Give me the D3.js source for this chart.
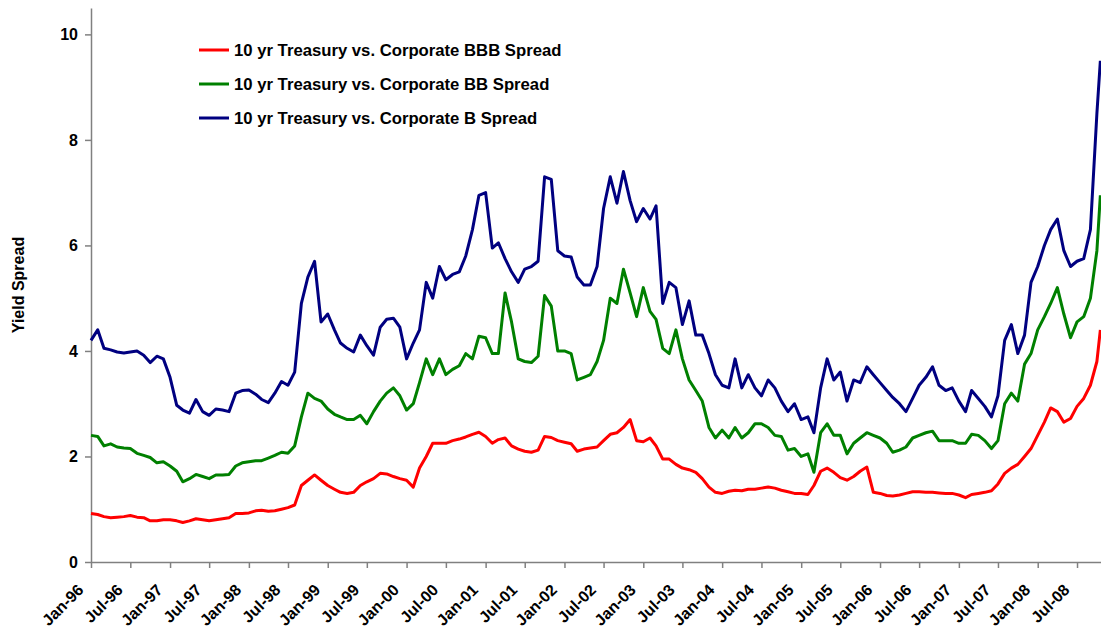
<!DOCTYPE html>
<html lang="en">
<head>
<meta charset="UTF-8">
<title>Yield Spreads</title>
<script src="https://cdnjs.cloudflare.com/ajax/libs/d3/7.8.5/d3.min.js"></script>
<style>
    body { margin: 0; background: #fff; }
    svg { display: block; font-family: "Liberation Sans", Arial, sans-serif; }
    .axis text { font-size: 16px; font-weight: bold; fill: #000; }
    .axis path, .axis line { stroke: #808080; stroke-width: 1.5; }
    .legend text { font-size: 16.7px; font-weight: bold; }
</style>
</head>
<body>
<svg id="chart" width="1101" height="631"></svg>
<script>
// monthly readings, Jan-96 .. Oct-08, plus the last plotted day
const months = d3.timeMonth.range(new Date(1996, 0, 1), new Date(2008, 9, 2));
const lastDay = new Date(2008, 9, 17);
const dates = months.concat([lastDay]);

const bbbSpread = [
    0.92, 0.90, 0.86, 0.84, 0.85, 0.86, 0.88, 0.85, 0.84, 0.78, 0.78, 0.80,
    0.80, 0.78, 0.75, 0.78, 0.82, 0.80, 0.78, 0.80, 0.82, 0.84, 0.92, 0.92,
    0.93, 0.97, 0.98, 0.96, 0.97, 1.00, 1.03, 1.08, 1.45, 1.55, 1.65, 1.55,
    1.45, 1.38, 1.32, 1.30, 1.32, 1.45, 1.52, 1.58, 1.68, 1.67, 1.62, 1.58,
    1.55, 1.42, 1.78, 2.00, 2.25, 2.25, 2.25, 2.30, 2.33, 2.37, 2.42, 2.46,
    2.38, 2.25, 2.32, 2.35, 2.20, 2.14, 2.10, 2.08, 2.12, 2.38, 2.36, 2.30,
    2.27, 2.24, 2.10, 2.14, 2.16, 2.18, 2.30, 2.42, 2.45, 2.55, 2.70, 2.30,
    2.28, 2.35, 2.20, 1.95, 1.95, 1.85, 1.78, 1.75, 1.70, 1.58, 1.42, 1.32,
    1.30, 1.34, 1.36, 1.35, 1.38, 1.38, 1.40, 1.42, 1.40, 1.36, 1.33, 1.30,
    1.30, 1.28, 1.45, 1.72, 1.78, 1.70, 1.60, 1.55, 1.62, 1.72, 1.80, 1.32,
    1.30, 1.26, 1.25, 1.27, 1.30, 1.33, 1.33, 1.32, 1.32, 1.31, 1.30, 1.30,
    1.27, 1.22, 1.28, 1.30, 1.32, 1.35, 1.48, 1.68, 1.78, 1.85, 2.00, 2.15,
    2.40, 2.65, 2.92, 2.85, 2.65, 2.72, 2.95, 3.10, 3.35, 3.80, 4.40
];

const bbSpread = [
    2.40, 2.38, 2.20, 2.24, 2.18, 2.16, 2.15, 2.06, 2.02, 1.98, 1.88, 1.90,
    1.82, 1.72, 1.52, 1.58, 1.66, 1.62, 1.58, 1.65, 1.65, 1.66, 1.82, 1.88,
    1.90, 1.92, 1.92, 1.97, 2.02, 2.08, 2.06, 2.20, 2.75, 3.20, 3.10, 3.05,
    2.90, 2.80, 2.75, 2.70, 2.70, 2.78, 2.62, 2.85, 3.05, 3.20, 3.30, 3.15,
    2.88, 3.00, 3.40, 3.85, 3.55, 3.85, 3.55, 3.65, 3.72, 3.95, 3.85, 4.28,
    4.25, 3.95, 3.95, 5.10, 4.55, 3.85, 3.80, 3.78, 3.90, 5.05, 4.85, 4.00,
    4.00, 3.95, 3.45, 3.50, 3.55, 3.80, 4.20, 5.00, 4.90, 5.55, 5.10, 4.65,
    5.20, 4.75, 4.60, 4.05, 3.95, 4.40, 3.85, 3.45, 3.25, 3.05, 2.55, 2.35,
    2.50, 2.35, 2.55, 2.35, 2.45, 2.62, 2.62, 2.55, 2.40, 2.38, 2.12, 2.15,
    2.00, 2.05, 1.70, 2.45, 2.62, 2.40, 2.40, 2.05, 2.25, 2.35, 2.45, 2.40,
    2.35, 2.25, 2.08, 2.12, 2.18, 2.35, 2.40, 2.45, 2.48, 2.30, 2.30, 2.30,
    2.25, 2.25, 2.42, 2.40, 2.30, 2.15, 2.30, 3.00, 3.20, 3.05, 3.75, 3.95,
    4.40, 4.65, 4.90, 5.20, 4.70, 4.25, 4.55, 4.65, 5.00, 5.90, 6.95
];

const bSpread = [
    4.20, 4.40, 4.05, 4.02, 3.98, 3.96, 3.98, 4.00, 3.92, 3.78, 3.90, 3.85,
    3.50, 2.97, 2.88, 2.82, 3.08, 2.85, 2.78, 2.90, 2.88, 2.85, 3.20, 3.25,
    3.26, 3.18, 3.08, 3.02, 3.20, 3.42, 3.35, 3.60, 4.90, 5.40, 5.70, 4.55,
    4.70, 4.40, 4.15, 4.05, 3.98, 4.30, 4.10, 3.92, 4.45, 4.60, 4.62, 4.45,
    3.85, 4.15, 4.40, 5.30, 5.00, 5.60, 5.35, 5.45, 5.50, 5.80, 6.30, 6.95,
    7.00, 5.95, 6.05, 5.75, 5.50, 5.30, 5.55, 5.60, 5.70, 7.30, 7.25, 5.90,
    5.80, 5.78, 5.40, 5.25, 5.25, 5.60, 6.70, 7.30, 6.80, 7.40, 6.85, 6.45,
    6.70, 6.50, 6.75, 4.90, 5.30, 5.20, 4.50, 4.95, 4.30, 4.30, 3.95, 3.55,
    3.35, 3.30, 3.85, 3.30, 3.55, 3.30, 3.15, 3.45, 3.30, 3.05, 2.85, 3.00,
    2.70, 2.75, 2.45, 3.30, 3.85, 3.45, 3.60, 3.05, 3.45, 3.40, 3.70, 3.55,
    3.40, 3.25, 3.12, 3.00, 2.85, 3.10, 3.35, 3.50, 3.70, 3.35, 3.25, 3.30,
    3.05, 2.85, 3.25, 3.10, 2.95, 2.75, 3.15, 4.20, 4.50, 3.95, 4.30, 5.30,
    5.60, 6.00, 6.30, 6.50, 5.90, 5.60, 5.70, 5.75, 6.30, 8.50, 9.50
];

const seriesNames = [
    "10 yr Treasury vs. Corporate BBB Spread",
    "10 yr Treasury vs. Corporate BB Spread",
    "10 yr Treasury vs. Corporate B Spread"
];
const seriesColors = ["#ff0000", "#008000", "#000080"];
const yTicks = [0, 2, 4, 6, 8, 10];

const svg = d3.select("#chart");
const plotLeft = 91, plotRight = 1101, plotTop = 8, plotBottom = 562;

const x = d3.scaleTime()
    .domain([new Date(1996, 0, 1), new Date(2008, 9, 20)])
    .range([plotLeft, plotRight]);
const y = d3.scaleLinear()
    .domain([0, 10.5])
    .range([plotBottom, plotTop]);

// axes
const fmt = d3.timeFormat("%b-%y");
const xAxis = svg.append("g")
    .attr("class", "axis")
    .attr("transform", `translate(0,${plotBottom})`)
    .call(d3.axisBottom(x)
        .ticks(d3.timeMonth.every(6))
        .tickSize(6)
        .tickSizeOuter(0)
        .tickFormat(fmt));
// rotated labels, end of text just below-left of the tick
xAxis.selectAll("text")
    .attr("text-anchor", "end")
    .attr("x", 0)
    .attr("y", 0)
    .attr("dy", 0)
    .attr("transform", "translate(-7,29) rotate(-45)");

svg.append("g")
    .attr("class", "axis")
    .attr("transform", `translate(${plotLeft},0)`)
    .call(d3.axisLeft(y)
        .tickValues(yTicks)
        .tickSize(6)
        .tickSizeOuter(0)
        .tickPadding(7));

svg.append("text")
    .attr("transform", "translate(24,285) rotate(-90)")
    .attr("text-anchor", "middle")
    .style("font-size", "16px")
    .style("font-weight", "bold")
    .text("Yield Spread");

// lines
const line = d3.line()
    .x((d, i) => x(dates[i]))
    .y(d => y(d));

[bbbSpread, bbSpread, bSpread].forEach((values, i) => {
    svg.append("path")
        .datum(values)
        .attr("fill", "none")
        .attr("stroke", seriesColors[i])
        .attr("stroke-width", 3)
        .attr("stroke-linejoin", "round")
        .attr("d", line);
});

// legend
const legend = svg.append("g").attr("class", "legend");
seriesNames.forEach((name, i) => {
    const ly = 50 + i * 34;
    legend.append("line")
        .attr("x1", 199).attr("x2", 229)
        .attr("y1", ly).attr("y2", ly)
        .attr("stroke", seriesColors[i])
        .attr("stroke-width", 3);
    legend.append("text")
        .attr("x", 234)
        .attr("y", ly + 6)
        .text(name);
});
</script>
</body>
</html>
